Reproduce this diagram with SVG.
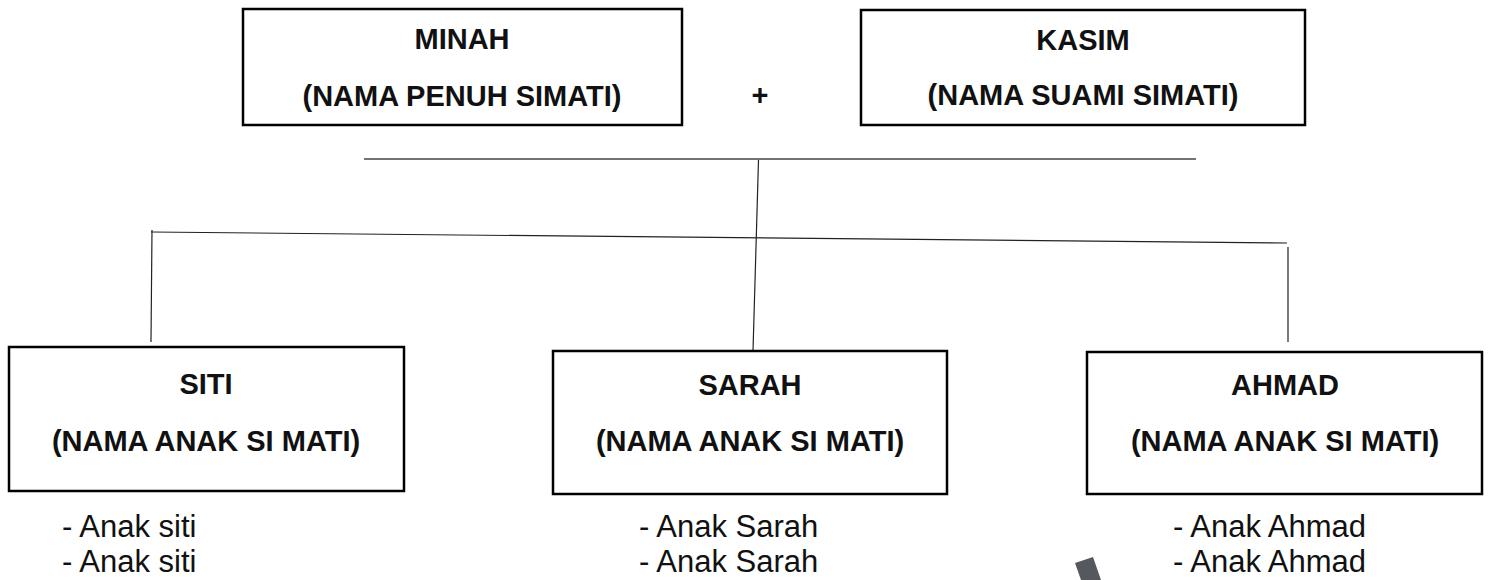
<svg xmlns="http://www.w3.org/2000/svg" width="1490" height="580" viewBox="0 0 1490 580">
<style>
.box{fill:#fff;stroke:#000;stroke-width:2.5}
.t{font-family:"Liberation Sans",Arial,sans-serif;font-weight:bold;font-size:29px;fill:#111;text-anchor:middle}
.b{font-family:"Liberation Sans",Arial,sans-serif;font-size:31px;fill:#111}
.ln{stroke:#222;stroke-width:1.2;fill:none}
</style>
<rect width="1490" height="580" fill="#fff"/>
<g id="connectors">
<line x1="364" y1="159" x2="1196" y2="159" stroke="#444" stroke-width="1.6"/>
<line class="ln" x1="758.5" y1="160" x2="753" y2="351"/>
<line class="ln" x1="151" y1="232" x2="1287" y2="243"/>
<line class="ln" x1="152" y1="230" x2="151" y2="342"/>
<line class="ln" x1="1288" y1="247" x2="1288" y2="342"/>
</g>
<g id="minah">
<rect class="box" x="243" y="9" width="439" height="116"/>
<text class="t" x="462" y="49">MINAH</text>
<text class="t" x="462" y="106">(NAMA PENUH SIMATI)</text>
</g>
<g id="plus"><text class="t" x="760" y="105">+</text></g>
<g id="kasim">
<rect class="box" x="861" y="10" width="444" height="115"/>
<text class="t" x="1083" y="50">KASIM</text>
<text class="t" x="1083" y="105">(NAMA SUAMI SIMATI)</text>
</g>
<g id="siti">
<rect class="box" x="9" y="347" width="395" height="144"/>
<text class="t" x="206" y="394">SITI</text>
<text class="t" x="206" y="451">(NAMA ANAK SI MATI)</text>
<text class="b" x="62" y="537">- Anak siti</text>
<text class="b" x="62" y="572">- Anak siti</text>
</g>
<g id="sarah">
<rect class="box" x="553" y="351" width="394" height="143"/>
<text class="t" x="750" y="395">SARAH</text>
<text class="t" x="750" y="451">(NAMA ANAK SI MATI)</text>
<text class="b" x="639" y="537">- Anak Sarah</text>
<text class="b" x="639" y="572">- Anak Sarah</text>
</g>
<g id="ahmad">
<rect class="box" x="1087" y="352" width="395" height="142"/>
<text class="t" x="1285" y="395">AHMAD</text>
<text class="t" x="1285" y="451">(NAMA ANAK SI MATI)</text>
<text class="b" x="1173" y="537">- Anak Ahmad</text>
<text class="b" x="1173" y="572">- Anak Ahmad</text>
</g>
<polygon points="1075,563 1093,557 1101,580 1081,580" fill="#55595e"/>
</svg>
